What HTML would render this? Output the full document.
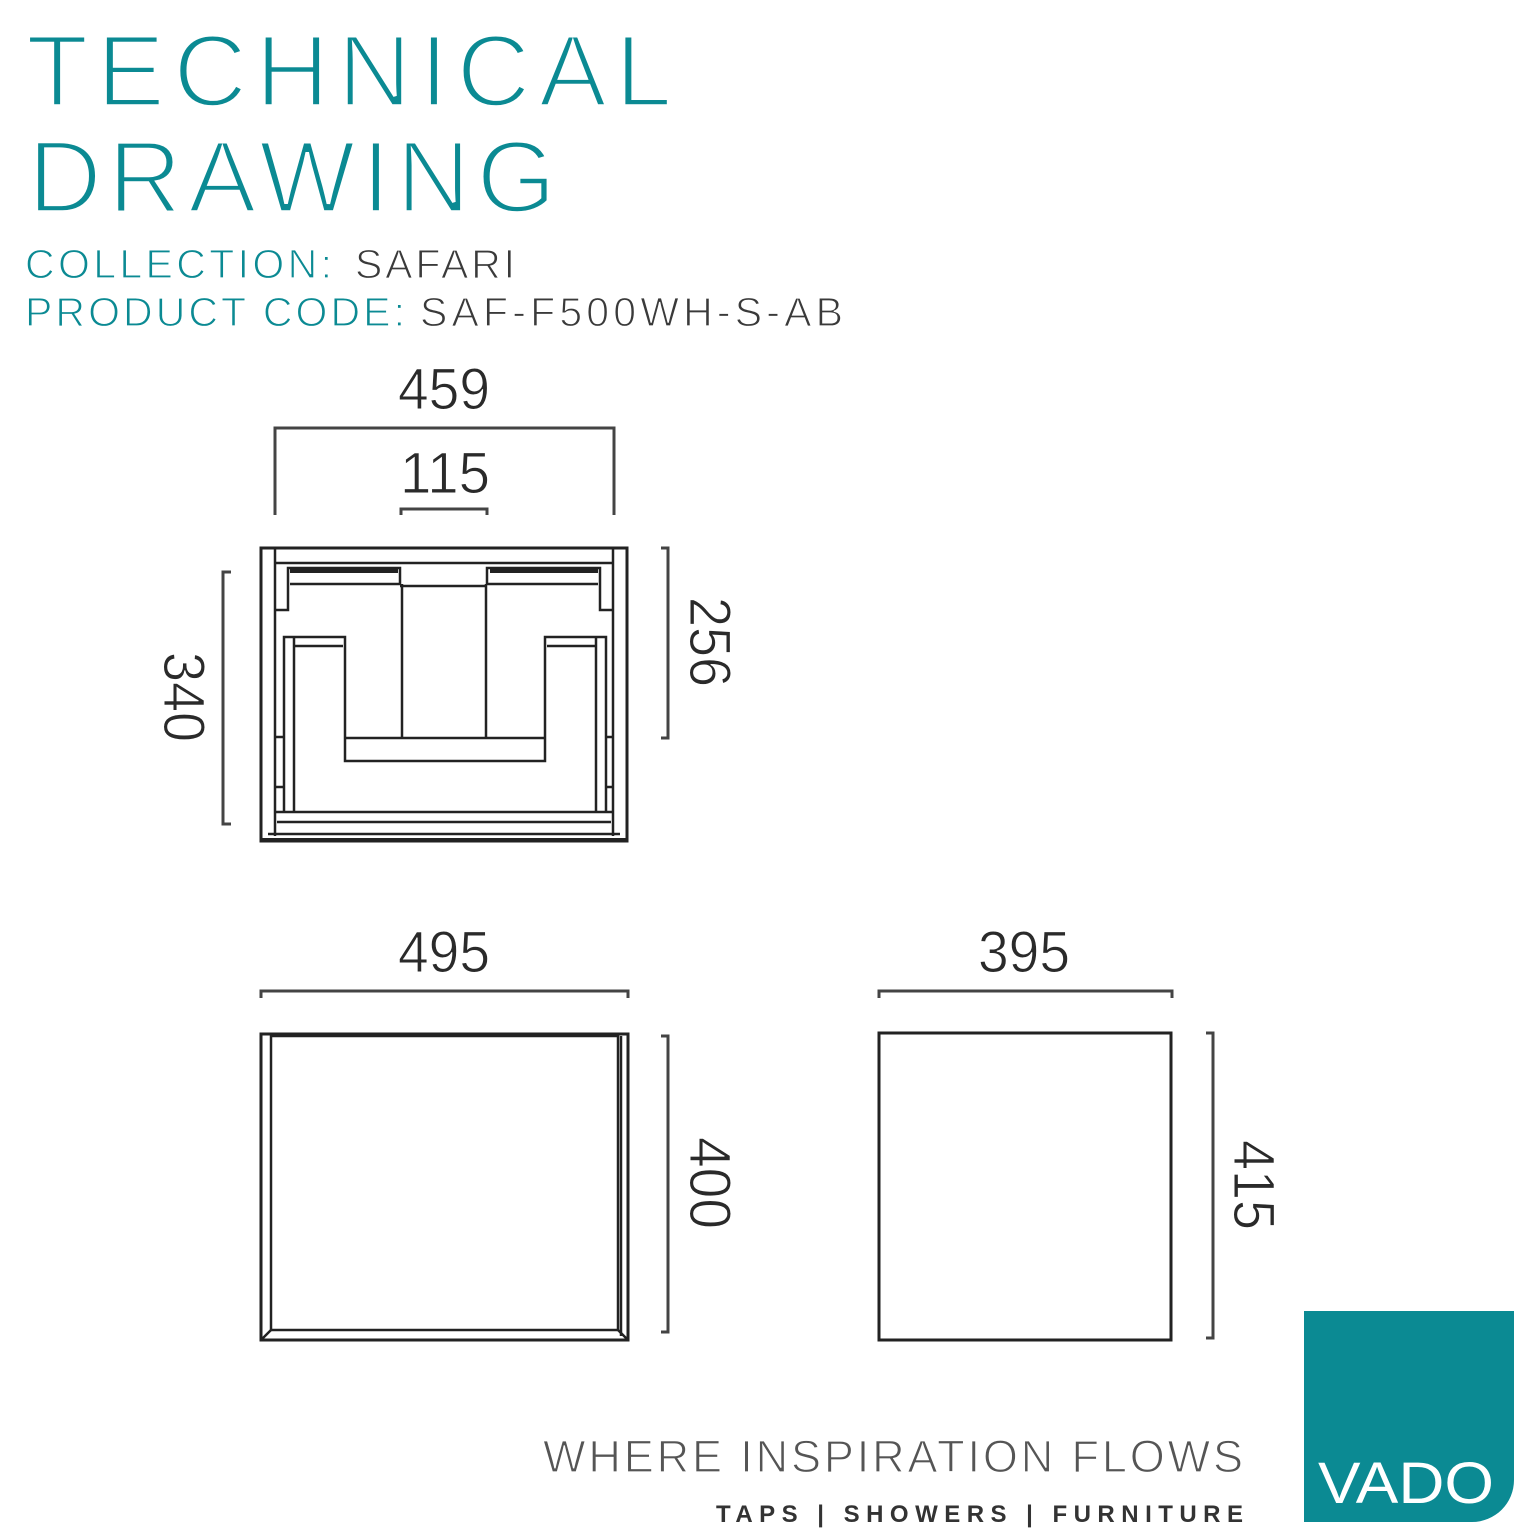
<!DOCTYPE html>
<html><head><meta charset="utf-8"><style>
html,body{margin:0;padding:0;background:#fff;}
svg{display:block;}
</style></head><body>
<svg width="1540" height="1540" viewBox="0 0 1540 1540" xmlns="http://www.w3.org/2000/svg" font-family="Liberation Sans, DejaVu Sans, sans-serif">
<!-- Title -->
<g stroke="#fff" stroke-width="3.5">
<text x="26" y="106" font-size="102" fill="#0b8a93" textLength="646" lengthAdjust="spacing">TECHNICAL</text>
<text x="28" y="212" font-size="102" fill="#0b8a93" textLength="528" lengthAdjust="spacing">DRAWING</text>
</g>
<g stroke="#fff" stroke-width="1.2">
<text x="25" y="278" font-size="41" fill="#0b8a93" textLength="307" lengthAdjust="spacing">COLLECTION:</text>
<text x="355" y="278" font-size="41" fill="#3a3a3a" textLength="160" lengthAdjust="spacing">SAFARI</text>
<text x="25" y="326" font-size="41" fill="#0b8a93" textLength="380" lengthAdjust="spacing">PRODUCT CODE:</text>
<text x="420" y="326" font-size="41" fill="#3a3a3a" textLength="423" lengthAdjust="spacing">SAF-F500WH-S-AB</text>
</g>

<g fill="none" stroke="#222" stroke-width="2.5">
<!-- top dims -->
<polyline points="275,515 275,428 614,428 614,515" stroke="#444" stroke-width="3"/>
<polyline points="401,515 401,509 487,509 487,515" stroke="#444" stroke-width="3"/>
<polyline points="231,572 223,572 223,824 231,824" stroke="#444" stroke-width="3"/>
<polyline points="661,548 668,548 668,738 661,738" stroke="#444" stroke-width="3"/>

<!-- top view -->
<rect x="261" y="548" width="366" height="293" stroke-width="3"/>
<line x1="275" y1="548" x2="275" y2="836"/>
<line x1="613" y1="548" x2="613" y2="836"/>
<line x1="275" y1="563" x2="613" y2="563"/>
<polyline points="275,610 288,610 288,568 400,568 400,584 290,584"/>
<line x1="290" y1="571" x2="398" y2="571" stroke-width="4"/>
<polyline points="613,610 600,610 600,568 487,568 487,584 598,584"/>
<line x1="490" y1="571" x2="598" y2="571" stroke-width="4"/>
<line x1="400" y1="586" x2="487" y2="586"/>
<line x1="402" y1="584" x2="402" y2="738"/>
<line x1="486" y1="584" x2="486" y2="738"/>
<polyline points="284,812 284,637 345,637 345,761 545,761 545,637 606,637 606,812"/>
<line x1="294" y1="637" x2="294" y2="812"/>
<line x1="596" y1="637" x2="596" y2="812"/>
<line x1="294" y1="646" x2="343" y2="646"/>
<line x1="547" y1="646" x2="596" y2="646"/>
<line x1="345" y1="738" x2="545" y2="738"/>
<line x1="276" y1="812" x2="612" y2="812"/>
<line x1="277" y1="822" x2="611" y2="822"/>
<line x1="268" y1="834" x2="620" y2="834"/>
<line x1="261" y1="840" x2="627" y2="840" stroke-width="4"/>
<line x1="275" y1="737" x2="284" y2="737"/><line x1="275" y1="787" x2="284" y2="787"/>
<line x1="606" y1="737" x2="613" y2="737"/><line x1="606" y1="787" x2="613" y2="787"/>

<!-- bottom dims -->
<polyline points="261,998 261,991 628,991 628,998" stroke="#444" stroke-width="3"/>
<polyline points="661,1036 668,1036 668,1332 661,1332" stroke="#444" stroke-width="3"/>
<polyline points="879,998 879,991 1172,991 1172,998" stroke="#444" stroke-width="3"/>
<polyline points="1206,1033 1213,1033 1213,1338 1206,1338" stroke="#444" stroke-width="3"/>

<!-- front -->
<rect x="261" y="1034" width="367" height="306" stroke-width="3"/>
<rect x="271" y="1036" width="347" height="294"/>
<line x1="261" y1="1340" x2="271" y2="1330"/><line x1="628" y1="1340" x2="618" y2="1330"/>
<line x1="621" y1="1036" x2="621" y2="1336"/>
<!-- side -->
<rect x="879" y="1033" width="292" height="307" stroke-width="3"/>
</g>

<g fill="#2a2a2a" font-size="58" stroke="#fff" stroke-width="1">
<text x="398" y="409" textLength="92" lengthAdjust="spacingAndGlyphs">459</text>
<text x="400" y="493" textLength="90" lengthAdjust="spacingAndGlyphs">115</text>
<text x="398" y="972" textLength="92" lengthAdjust="spacingAndGlyphs">495</text>
<text x="978" y="972" textLength="92" lengthAdjust="spacingAndGlyphs">395</text>
<text transform="translate(164,652) rotate(90)" textLength="90" lengthAdjust="spacingAndGlyphs">340</text>
<text transform="translate(690,597) rotate(90)" textLength="90" lengthAdjust="spacingAndGlyphs">256</text>
<text transform="translate(690,1137) rotate(90)" textLength="92" lengthAdjust="spacingAndGlyphs">400</text>
<text transform="translate(1234,1140) rotate(90)" textLength="90" lengthAdjust="spacingAndGlyphs">415</text>
</g>

<text x="543" y="1472" font-size="45" fill="#555" stroke="#fff" stroke-width="1.2" textLength="700" lengthAdjust="spacing">WHERE INSPIRATION FLOWS</text>
<text x="716" y="1522" font-size="24" font-weight="bold" fill="#333" textLength="527" lengthAdjust="spacing">TAPS | SHOWERS | FURNITURE</text>

<path d="M1304,1311 H1514 V1480 A42,42 0 0 1 1472,1522 H1304 Z" fill="#0b8a93"/>
<text x="1318" y="1503" font-size="58" fill="#fff" textLength="176" lengthAdjust="spacingAndGlyphs">VADO</text>
</svg>
</body></html>
